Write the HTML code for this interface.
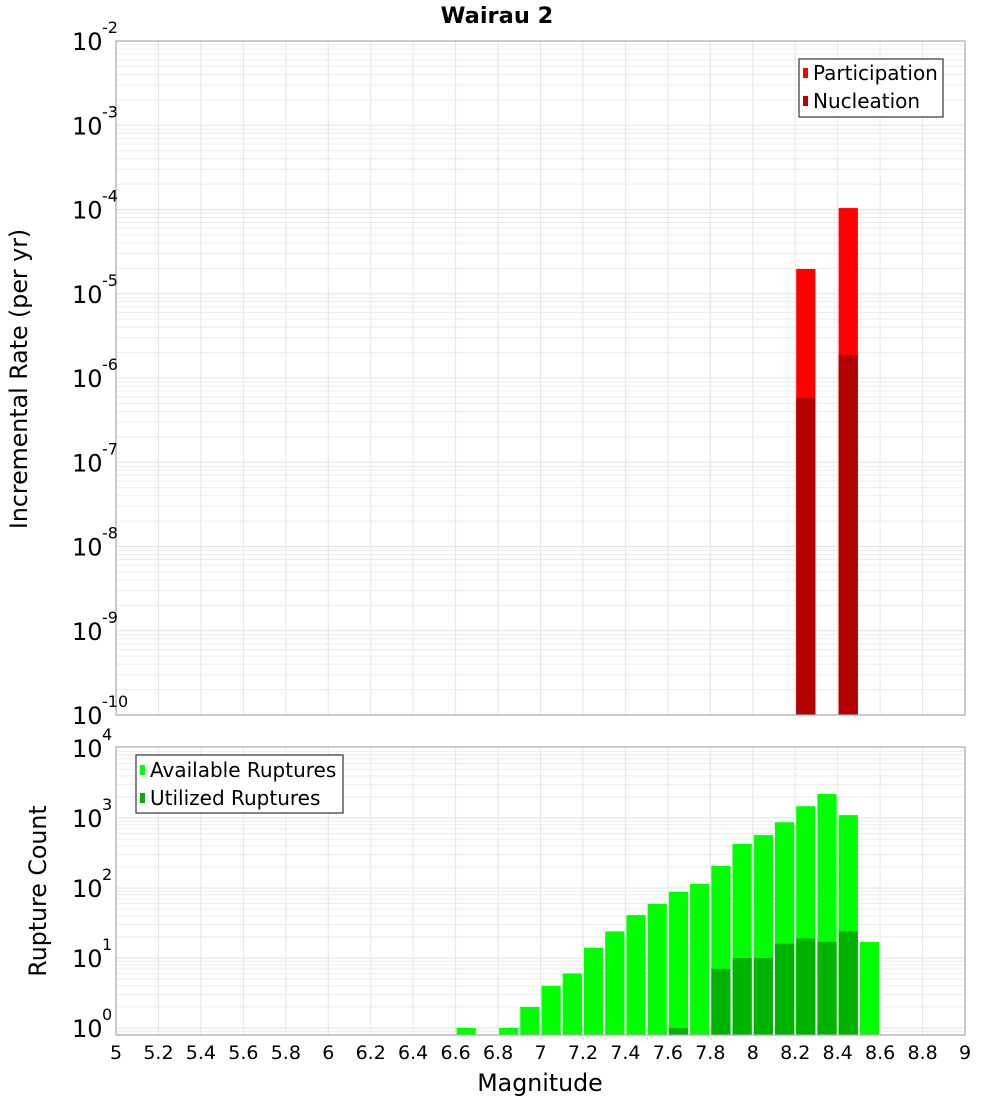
<!DOCTYPE html>
<html><head><meta charset="utf-8"><style>
body{margin:0;background:#fff}
svg{font-family:"DejaVu Sans","Liberation Sans",sans-serif}
</style></head><body>
<svg id="c" width="1000" height="1100" xmlns="http://www.w3.org/2000/svg">
<text x="497" y="23" text-anchor="middle" font-size="22.5" font-weight="bold">Wairau 2</text>
<g id="gtop"></g>
<g id="gbot"></g>
<text transform="translate(27,379) rotate(-90)" text-anchor="middle" font-size="23.7">Incremental Rate (per yr)</text>
<text transform="translate(46,891) rotate(-90)" text-anchor="middle" font-size="23.7">Rupture Count</text>
<text x="540" y="1091" text-anchor="middle" font-size="23.7">Magnitude</text>
<g>
<rect x="799" y="59" width="144" height="58" fill="#fff" stroke="#333" stroke-width="1.2"/>
<rect x="803" y="68" width="5" height="10" fill="#ff0000"/>
<text x="813" y="80" font-size="20">Participation</text>
<rect x="803" y="96" width="5" height="10" fill="#b30000"/>
<text x="813" y="108" font-size="20">Nucleation</text>
</g>
<g>
<rect x="136" y="755" width="207" height="58" fill="#fff" stroke="#333" stroke-width="1.2"/>
<rect x="140" y="765" width="5" height="10" fill="#00ff00"/>
<text x="150" y="777" font-size="20">Available Ruptures</text>
<rect x="140" y="793" width="5" height="10" fill="#00b300"/>
<text x="150" y="805" font-size="20">Utilized Ruptures</text>
</g>
</svg>
<script>
const topBins=[8.25,8.45];
const participation=[1.97e-5,1.04e-4];
const nucleation=[5.8e-7,1.88e-6];
const botBins=[6.65,6.85,6.95,7.05,7.15,7.25,7.35,7.45,7.55,7.65,7.75,7.85,7.95,8.05,8.15,8.25,8.35,8.45,8.55];
const available=[1,1,2,4,6,14,24,41,59,88,114,207,425,570,870,1475,2200,1100,17];
const utilized=[0,0,0,0,0,0,0,0,0,1,0,7,10,10,16,19,17,24,0];
const xTicks=[5,5.2,5.4,5.6,5.8,6,6.2,6.4,6.6,6.8,7,7.2,7.4,7.6,7.8,8,8.2,8.4,8.6,8.8,9];
const topExps=[-2,-3,-4,-5,-6,-7,-8,-9,-10];
const botExps=[4,3,2,1,0];

const NS="http://www.w3.org/2000/svg";
const L=116,R=965;
const x=m=>L+(m-5)/4*(R-L);
const yT=v=>41+(-2-Math.log10(v))*84.25;
const yB=v=>1028-Math.log10(v)*70;
function mk(p,t,a){const e=document.createElementNS(NS,t);for(const k in a)e.setAttribute(k,a[k]);p.appendChild(e);return e;}
const gTop=document.getElementById('gtop'),gBot=document.getElementById('gbot');

function grid(g,y0,y1,yf,lo,hi){
  for(let d=lo;d<hi;d++){for(let k=1;k<10;k++){const yy=yf(k*Math.pow(10,d));if(yy<y0-0.5||yy>y1+0.5)continue;
    const l=mk(g,'line',{x1:L,x2:R,y1:yy,y2:yy,stroke:k==1?'#e0e0e0':'#ececec','stroke-width':1});
    
    }}
  xTicks.forEach(t=>{const l=mk(g,'line',{x1:x(t),x2:x(t),y1:y0,y2:y1,stroke:'#e6e6e6','stroke-width':1});
    
    });
}
grid(gTop,41,715,yT,-10,-1);
grid(gBot,747,1035,yB,-1,4);

function bar(g,c,v,yf,y0,color,name){
  const yy=yf(v);
  const r=mk(g,'rect',{x:x(c-0.05)+1,y:yy,width:x(c+0.05)-x(c-0.05)-2,height:y0-yy,fill:color});
  
  
}
topBins.forEach((c,i)=>{bar(gTop,c,participation[i],yT,715,'#ff0000','participation-bar');bar(gTop,c,nucleation[i],yT,715,'#b30000','nucleation-bar');});
botBins.forEach((c,i)=>{if(available[i]>0)bar(gBot,c,available[i],yB,1035,'#00ff00','available-bar');if(utilized[i]>0)bar(gBot,c,utilized[i],yB,1035,'#00b300','utilized-bar');});

[[gTop,41,715],[gBot,747,1035]].forEach(([g,a,b])=>{const r=mk(g,'rect',{x:L,y:a,width:R-L,height:b-a,fill:'none',stroke:'#aaa','stroke-width':1.2});
  
  });

function ylab(g,yy,e){
  const t=mk(g,'text',{x:72,y:yy+9,'font-size':24});
  
  
  t.textContent='10';
  const s=mk(g,'text',{x:102,y:yy-8,'font-size':16});
  
  
  s.textContent=String(e);
}
topExps.forEach(e=>ylab(gTop,yT(Math.pow(10,e)),e));
botExps.forEach(e=>ylab(gBot,yB(Math.pow(10,e)),e));
xTicks.forEach(t=>{const tx=mk(gBot,'text',{x:x(t),y:1059,'text-anchor':'middle','font-size':19});
  
  
  tx.textContent=String(t);});
</script>
</body></html>
